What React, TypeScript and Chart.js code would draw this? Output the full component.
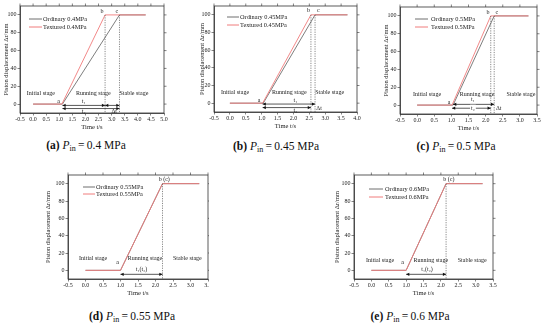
import React, { useEffect, useRef } from "react";
import { Chart, registerables } from "chart.js";
Chart.register(...registerables);

const SERIF = '"Liberation Serif", "Times New Roman", serif';

// ---- data ----
const Y_TICKS = [0, 20, 40, 60, 80, 100];
const DISP_Y = [0, 0, 100, 100];

const A_X_TICKS = [-0.5, 0, 0.5, 1, 1.5, 2, 2.5, 3, 3.5, 4, 4.5, 5];
const B_X_TICKS = [-0.5, 0, 0.5, 1, 1.5, 2, 2.5, 3, 3.5, 4];
const C_X_TICKS = [-0.5, 0, 0.5, 1, 1.5, 2, 2.5, 3, 3.5];
const D_X_TICKS = [-0.5, 0, 0.5, 1, 1.5, 2, 2.5, 3, 3.5];
const E_X_TICKS = [-0.5, 0, 0.5, 1, 1.5, 2, 2.5, 3, 3.5];

const A_ORD_X = [0, 1.12, 3.3, 4.3];
const A_TEX_X = [0, 1.1, 2.75, 4.3];
const B_ORD_X = [0, 1.05, 2.68, 3.7];
const B_TEX_X = [0, 1.03, 2.55, 3.7];
const C_ORD_X = [0, 1.05, 2.25, 3.25];
const C_TEX_X = [0, 1.02, 2.15, 3.25];
const D_ORD_X = [0, 1.0, 2.2, 3.25];
const D_TEX_X = [0, 1.0, 2.2, 3.25];
const E_ORD_X = [0, 1.0, 2.15, 3.2];
const E_TEX_X = [0, 1.0, 2.15, 3.2];

const PRESSURES = ["0.4", "0.45", "0.5", "0.55", "0.6"];
const LETTERS = ["a", "b", "c", "d", "e"];

type Txt = { x: number; y: number; t: string; bg?: boolean; align?: CanvasTextAlign };
type Arr = { x1: number; x2: number; y: number };
interface Panel {
  canvas: { left: number; top: number; w: number; h: number };
  plot: { left: number; top: number; right: number; bottom: number };
  yTitleX: number;
  xTitleY: number;
  xMax: number;
  xTicks: number[];
  ordX: number[];
  texX: number[];
  p: string;
  legend: { s0: number; s1: number; tx: number; r0: number; r1: number };
  texts: Txt[];
  vlines: number[];
  arrows: Arr[];
  caption: { x: number; y: number; letter: string };
}

const PANELS: Panel[] = [
  {
    canvas: { left: 0, top: 0, w: 180, h: 135 },
    plot: { left: 20, top: 6, right: 164, bottom: 113 },
    yTitleX: 6, xTitleY: 127, xMax: 5.0, xTicks: A_X_TICKS,
    ordX: A_ORD_X, texX: A_TEX_X, p: PRESSURES[0],
    legend: { s0: 9, s1: 22, tx: 23, r0: 13, r1: 21 },
    texts: [
      { x: 0.3, y: 12, t: "Initial stage" },
      { x: 2.3, y: 12, t: "Running stage" },
      { x: 3.85, y: 12, t: "Stable stage" },
      { x: 0.97, y: 3, t: "a" },
      { x: 2.63, y: 104, t: "b" },
      { x: 3.2, y: 104, t: "c" },
      { x: 1.93, y: 2.5, t: "t\u2081" },
      { x: 1.93, y: -8.5, t: "t\u2082" },
      { x: 3.1, y: -8.5, t: "\u0394t" },
    ],
    vlines: [2.75, 3.3],
    arrows: [
      { x1: 1.12, x2: 2.75, y: -1.5 },
      { x1: 1.12, x2: 3.3, y: -5 },
      { x1: 2.75, x2: 3.3, y: -1.5 },
    ],
    caption: { x: 86, y: 147, letter: LETTERS[0] },
  },
  {
    canvas: { left: 188, top: 0, w: 182, h: 135 },
    plot: { left: 214, top: 6, right: 357, bottom: 112 },
    yTitleX: 202, xTitleY: 126, xMax: 4.0, xTicks: B_X_TICKS,
    ordX: B_ORD_X, texX: B_TEX_X, p: PRESSURES[1],
    legend: { s0: 13, s1: 25, tx: 26, r0: 11, r1: 19 },
    texts: [
      { x: 0.16, y: 12.5, t: "Initial stage" },
      { x: 1.87, y: 12.5, t: "Running stage" },
      { x: 3.14, y: 12.5, t: "Stable stage" },
      { x: 0.92, y: 3.5, t: "a" },
      { x: 2.47, y: 105, t: "b" },
      { x: 2.78, y: 105, t: "c" },
      { x: 2.06, y: 3.5, t: "t\u2081" },
      { x: 2.06, y: -8.5, t: "t\u2082" },
      { x: 2.72, y: -6, t: "\u0394t", align: "left" },
    ],
    vlines: [2.55, 2.68],
    arrows: [
      { x1: 1.03, x2: 2.68, y: -1 },
      { x1: 1.03, x2: 2.55, y: -5 },
    ],
    caption: { x: 276, y: 148, letter: LETTERS[1] },
  },
  {
    canvas: { left: 372, top: 0, w: 178, h: 135 },
    plot: { left: 400, top: 7, right: 537, bottom: 114 },
    yTitleX: 386, xTitleY: 128, xMax: 3.5, xTicks: C_X_TICKS,
    ordX: C_ORD_X, texX: C_TEX_X, p: PRESSURES[2],
    legend: { s0: 15, s1: 28, tx: 31, r0: 12, r1: 20 },
    texts: [
      { x: 0.29, y: 12, t: "Initial stage" },
      { x: 1.75, y: 12, t: "Running stage" },
      { x: 3.03, y: 12, t: "Stable stage" },
      { x: 0.93, y: 3, t: "a" },
      { x: 2.07, y: 104, t: "b" },
      { x: 2.33, y: 104, t: "c" },
      { x: 1.63, y: 6.5, t: "t\u2081" },
      { x: 1.63, y: -3.5, t: "t\u2082", bg: true },
      { x: 2.3, y: -3.5, t: "\u0394t", align: "left" },
    ],
    vlines: [2.15, 2.25],
    arrows: [
      { x1: 1.05, x2: 2.25, y: 0.8 },
      { x1: 1.02, x2: 2.15, y: -3.5 },
    ],
    caption: { x: 456, y: 148, letter: LETTERS[2] },
  },
  {
    canvas: { left: 30, top: 168, w: 179, h: 132 },
    plot: { left: 68, top: 175, right: 208, bottom: 279 },
    yTitleX: 48, xTitleY: 293, xMax: 3.5, xTicks: D_X_TICKS,
    ordX: D_ORD_X, texX: D_TEX_X, p: PRESSURES[3],
    legend: { s0: 15, s1: 27, tx: 28, r0: 12, r1: 19 },
    texts: [
      { x: 0.22, y: 13.5, t: "Initial stage" },
      { x: 1.7, y: 13.5, t: "Running stage" },
      { x: 2.91, y: 13.5, t: "Stable stage" },
      { x: 0.92, y: 9, t: "a" },
      { x: 2.25, y: 104.5, t: "b (c)" },
      { x: 1.6, y: 0.5, t: "t\u2081(t\u2082)" },
    ],
    vlines: [2.2],
    arrows: [{ x1: 1.0, x2: 2.2, y: -4.6 }],
    caption: { x: 132, y: 318, letter: LETTERS[3] },
  },
  {
    canvas: { left: 316, top: 168, w: 181, h: 132 },
    plot: { left: 354, top: 175, right: 493, bottom: 279 },
    yTitleX: 337, xTitleY: 293, xMax: 3.5, xTicks: E_X_TICKS,
    ordX: E_ORD_X, texX: E_TEX_X, p: PRESSURES[4],
    legend: { s0: 15, s1: 29, tx: 31, r0: 14, r1: 22 },
    texts: [
      { x: 0.25, y: 11, t: "Initial stage" },
      { x: 1.71, y: 11, t: "Running stage" },
      { x: 2.9, y: 11, t: "Stable stage" },
      { x: 0.9, y: 9, t: "a" },
      { x: 2.23, y: 104.5, t: "b (c)" },
      { x: 1.6, y: 0.5, t: "t\u2081(t\u2082)" },
    ],
    vlines: [2.15],
    arrows: [{ x1: 1.0, x2: 2.15, y: -4.6 }],
    caption: { x: 410, y: 318, letter: LETTERS[4] },
  },
];

const ORD_COLOR = "#6f6f6f";
const TEX_COLOR = "#f07c7c";
const AXIS_COLOR = "#333";

function makeDecor(cfg: Panel) {
  return {
    id: "decor",
    afterDatasetsDraw(chart: any) {
      const { ctx, chartArea: ca, scales } = chart;
      const xs = scales.x, ys = scales.y;
      ctx.save();
      ctx.strokeStyle = AXIS_COLOR;
      ctx.lineWidth = 0.8;
      ctx.strokeRect(ca.left, ca.top, ca.right - ca.left, ca.bottom - ca.top);
      ctx.lineWidth = 0.6;
      ctx.beginPath();
      for (const v of cfg.xTicks) {
        const px = xs.getPixelForValue(v);
        ctx.moveTo(px, ca.top);
        ctx.lineTo(px, ca.top - 2.5);
      }
      for (const v of Y_TICKS) {
        const py = ys.getPixelForValue(v);
        ctx.moveTo(ca.right, py);
        ctx.lineTo(ca.right + 2.5, py);
      }
      ctx.stroke();
      ctx.setLineDash([1.2, 1.2]);
      ctx.strokeStyle = "#555";
      ctx.lineWidth = 0.7;
      for (const v of cfg.vlines) {
        const px = xs.getPixelForValue(v);
        ctx.beginPath();
        ctx.moveTo(px, ys.getPixelForValue(100));
        ctx.lineTo(px, ca.bottom);
        ctx.stroke();
      }
      ctx.setLineDash([]);
      ctx.strokeStyle = "#111";
      ctx.fillStyle = "#111";
      ctx.lineWidth = 0.7;
      for (const a of cfg.arrows) {
        const x1 = xs.getPixelForValue(a.x1);
        const x2 = xs.getPixelForValue(a.x2);
        const y = ys.getPixelForValue(a.y);
        ctx.beginPath();
        ctx.moveTo(x1, y);
        ctx.lineTo(x2, y);
        ctx.stroke();
        const h = 3.2, w = 1.6;
        ctx.beginPath();
        ctx.moveTo(x1, y);
        ctx.lineTo(x1 + h, y - w);
        ctx.lineTo(x1 + h, y + w);
        ctx.closePath();
        ctx.fill();
        ctx.beginPath();
        ctx.moveTo(x2, y);
        ctx.lineTo(x2 - h, y - w);
        ctx.lineTo(x2 - h, y + w);
        ctx.closePath();
        ctx.fill();
      }
      ctx.textBaseline = "middle";
      ctx.font = `6px ${SERIF}`;
      for (const t of cfg.texts) {
        const px = xs.getPixelForValue(t.x);
        const py = ys.getPixelForValue(t.y);
        ctx.textAlign = t.align || "center";
        if (t.bg) {
          const wd = ctx.measureText(t.t).width;
          ctx.fillStyle = "#fff";
          ctx.fillRect(px - wd / 2 - 1, py - 3.5, wd + 2, 7);
        }
        ctx.fillStyle = "#222";
        ctx.fillText(t.t, px, py);
      }
      const lg = cfg.legend;
      ctx.font = `6.3px ${SERIF}`;
      ctx.textAlign = "left";
      const rows = [
        { c: ORD_COLOR, t: `Ordinary ${cfg.p}MPa`, dy: lg.r0 },
        { c: TEX_COLOR, t: `Textured ${cfg.p}MPa`, dy: lg.r1 },
      ];
      for (const r of rows) {
        const y = ca.top + r.dy;
        ctx.strokeStyle = r.c;
        ctx.lineWidth = 1;
        ctx.beginPath();
        ctx.moveTo(ca.left + lg.s0, y);
        ctx.lineTo(ca.left + lg.s1, y);
        ctx.stroke();
        ctx.fillStyle = "#222";
        ctx.fillText(r.t, ca.left + lg.tx, y);
      }
      ctx.restore();
    },
  };
}

function PanelChart({ cfg }: { cfg: Panel }) {
  const ref = useRef<HTMLCanvasElement | null>(null);
  useEffect(() => {
    if (!ref.current) return;
    const { canvas, plot } = cfg;
    const yW = plot.left - canvas.left;
    const xH = canvas.top + canvas.h - plot.bottom;
    const padTop = plot.top - canvas.top;
    const padRight = canvas.left + canvas.w - plot.right;
    const titleSize = 6.5;
    const half = (titleSize * 1.2) / 2;
    const yTitlePad = cfg.yTitleX - canvas.left - half;
    const xTitlePad = canvas.top + canvas.h - cfg.xTitleY - half;
    const tickFont = { family: SERIF, size: 6 };
    const chart = new Chart(ref.current, {
      type: "line",
      data: {
        datasets: [
          {
            label: `Ordinary ${cfg.p}MPa`,
            data: cfg.ordX.map((x, i) => ({ x, y: DISP_Y[i] })),
            borderColor: ORD_COLOR,
            borderWidth: 0.9,
            pointRadius: 0,
            order: 1,
          },
          {
            label: `Textured ${cfg.p}MPa`,
            data: cfg.texX.map((x, i) => ({ x, y: DISP_Y[i] })),
            borderColor: TEX_COLOR,
            borderWidth: 0.9,
            pointRadius: 0,
            order: 0,
          },
        ],
      },
      options: {
        animation: false,
        responsive: false,
        maintainAspectRatio: false,
        layout: { padding: { top: padTop, right: padRight, left: 0, bottom: 0 } },
        plugins: { legend: { display: false }, tooltip: { enabled: false } },
        scales: {
          x: {
            type: "linear",
            min: -0.5,
            max: cfg.xMax,
            afterBuildTicks: (s: any) => {
              s.ticks = cfg.xTicks.map((v) => ({ value: v }));
            },
            afterFit: (s: any) => {
              s.height = xH;
              s.paddingLeft = 0;
              s.paddingRight = 0;
            },
            ticks: {
              autoSkip: false,
              maxRotation: 0,
              padding: 0,
              color: "#222",
              font: tickFont,
              callback: (v: any) => Number(v).toFixed(1),
            },
            grid: { display: true, drawOnChartArea: false, drawTicks: true, tickLength: 2.5, color: AXIS_COLOR, lineWidth: 0.6 },
            border: { display: true, color: AXIS_COLOR, width: 0.8 },
            title: {
              display: true,
              text: "Time t/s",
              color: "#222",
              font: { family: SERIF, size: titleSize },
              padding: { top: 0, bottom: xTitlePad },
            },
          },
          y: {
            type: "linear",
            min: -10,
            max: 110,
            afterBuildTicks: (s: any) => {
              s.ticks = Y_TICKS.map((v) => ({ value: v }));
            },
            afterFit: (s: any) => {
              s.width = yW;
              s.paddingTop = 0;
              s.paddingBottom = 0;
            },
            ticks: { padding: 1, color: "#222", font: tickFont },
            grid: { display: true, drawOnChartArea: false, drawTicks: true, tickLength: 2.5, color: AXIS_COLOR, lineWidth: 0.6 },
            border: { display: true, color: AXIS_COLOR, width: 0.8 },
            title: {
              display: true,
              text: "Piston displacement \u0394r/mm",
              color: "#222",
              font: { family: SERIF, size: titleSize },
              padding: { top: yTitlePad, bottom: 0 },
            },
          },
        },
      },
      plugins: [makeDecor(cfg)],
    } as any);
    return () => chart.destroy();
  }, [cfg]);
  const { canvas } = cfg;
  return (
    <div style={{ position: "absolute", left: canvas.left, top: canvas.top, width: canvas.w, height: canvas.h, overflow: "hidden" }}>
      <canvas ref={ref} width={canvas.w} height={canvas.h} style={{ display: "block" }} />
    </div>
  );
}

function Caption({ cfg }: { cfg: Panel }) {
  const c = cfg.caption;
  return (
    <div
      style={{
        position: "absolute",
        left: c.x,
        top: c.y,
        transform: "translate(-50%, -50%)",
        whiteSpace: "nowrap",
        fontFamily: SERIF,
        fontSize: 11.5,
        color: "#111",
        lineHeight: 1,
      }}
    >
      <b style={{ color: "#111" }}>({c.letter})</b> <i style={{ color: "#111" }}>P</i>
      <sub style={{ fontSize: "0.7em", verticalAlign: "-0.25em", color: "#111" }}>in</sub>
      {"\u2009=\u2009"}
      {cfg.p} MPa
    </div>
  );
}

export default function App() {
  return (
    <div style={{ position: "absolute", left: 0, top: 0, width: 550, height: 328, background: "#fff", overflow: "hidden" }}>
      {PANELS.map((p, i) => (
        <React.Fragment key={i}>
          <PanelChart cfg={p} />
          <Caption cfg={p} />
        </React.Fragment>
      ))}
    </div>
  );
}
